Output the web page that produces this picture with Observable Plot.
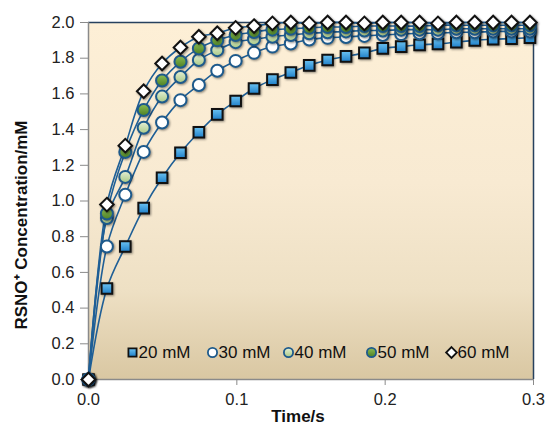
<!DOCTYPE html>
<html>
<head>
<meta charset="utf-8">
<script src="https://cdn.jsdelivr.net/npm/d3@7"></script>
<script src="https://cdn.jsdelivr.net/npm/@observablehq/plot@0.6"></script>
<style>
  html, body { margin: 0; padding: 0; background: #fff; }
  #chart { width: 546px; height: 426px; overflow: hidden; }
  .shd { filter: drop-shadow(1.2px 1.8px 1.2px rgba(0,0,0,0.45)); }
</style>
</head>
<body>
<div id="chart"></div>
<script>
const time = [0, 0.0124, 0.0248, 0.0372, 0.0496, 0.062, 0.0744, 0.0868, 0.0992, 0.1116, 0.124, 0.1364, 0.1488,
  0.1612, 0.1736, 0.186, 0.1984, 0.2108, 0.2232, 0.2356, 0.248, 0.2604, 0.2728, 0.2852, 0.2976];
const c20 = [0, 0.51, 0.745, 0.96, 1.13, 1.27, 1.385, 1.485, 1.56, 1.63, 1.68, 1.72, 1.76, 1.79, 1.81, 1.83,
  1.855, 1.865, 1.875, 1.88, 1.89, 1.90, 1.906, 1.91, 1.915];
const c30 = [0, 0.745, 1.035, 1.275, 1.44, 1.565, 1.65, 1.73, 1.785, 1.83, 1.865, 1.882, 1.905, 1.914, 1.919,
  1.925, 1.93, 1.935, 1.94, 1.94, 1.945, 1.945, 1.95, 1.95, 1.95];
const c40 = [0, 0.905, 1.135, 1.41, 1.585, 1.695, 1.79, 1.845, 1.89, 1.906, 1.92, 1.93, 1.94, 1.945, 1.95,
  1.955, 1.955, 1.96, 1.96, 1.96, 1.965, 1.965, 1.965, 1.965, 1.965];
const c50 = [0, 0.93, 1.275, 1.51, 1.675, 1.78, 1.855, 1.90, 1.93, 1.947, 1.96, 1.965, 1.97, 1.975, 1.975,
  1.98, 1.98, 1.98, 1.98, 1.985, 1.985, 1.985, 1.985, 1.985, 1.985];
const c60 = [0, 0.98, 1.31, 1.615, 1.77, 1.86, 1.92, 1.94, 1.97, 1.98, 1.995, 2.0, 1.995, 2.0, 2.0,
  1.995, 2.0, 2.0, 2.0, 1.995, 2.0, 2.0, 2.0, 2.0, 2.0];
const seriesNames = ["20 mM", "30 mM", "40 mM", "50 mM", "60 mM"];
const seriesValues = [c20, c30, c40, c50, c60];
const yTicks = [0, 0.2, 0.4, 0.6, 0.8, 1.0, 1.2, 1.4, 1.6, 1.8, 2.0];
const xTicks = [0, 0.1, 0.2, 0.3];
const xLabel = "Time/s";
const yLabel = "RSNO\u207A Concentration/mM";

const diamond = {
  draw(ctx, size) {
    const r = Math.sqrt(size / 2);
    ctx.moveTo(0, -r); ctx.lineTo(r, 0); ctx.lineTo(0, r); ctx.lineTo(-r, 0); ctx.closePath();
  }
};
const styles = [
  {symbol: "square", fill: "url(#gSq)", stroke: "#111", sw: 2, r: 6.0, lr: 4.6},
  {symbol: "circle", fill: "#ffffff", stroke: "#1d5a8c", sw: 2, r: 6.0, lr: 4.6},
  {symbol: "circle", fill: "url(#gLg)", stroke: "#1d5a8c", sw: 2, r: 6.0, lr: 4.6},
  {symbol: "circle", fill: "url(#gDg)", stroke: "#1d5a8c", sw: 2, r: 6.0, lr: 4.6},
  {symbol: diamond, fill: "#ffffff", stroke: "#111", sw: 2, r: 5.4, lr: 4.3}
];
const legendDx = [44, 124, 200, 283, 363];

const marks = [
  Plot.frame({fill: "url(#gBg)", stroke: "none"}),
  Plot.ruleY([2], {stroke: "#27415e", strokeWidth: 1.5}),
  Plot.ruleX([0.3], {stroke: "#27415e", strokeWidth: 1.5}),
  Plot.ruleX([0], {stroke: "#8a8a8a", strokeWidth: 1.5}),
  Plot.ruleY([0], {stroke: "#8a8a8a", strokeWidth: 1.5}),
  Plot.axisY({ticks: yTicks, tickFormat: d3.format(".1f"), tickSize: 8, tickPadding: 6, stroke: "#8a8a8a",
    color: "#222", fontSize: 16.5, label: null}),
  Plot.axisX({ticks: xTicks, tickFormat: d3.format(".1f"), tickSize: 6, tickPadding: 8, stroke: "#8a8a8a",
    color: "#222", fontSize: 16.5, label: null}),
  Plot.text([yLabel], {frameAnchor: "left", dx: -67, dy: 24, rotate: -90, fontSize: 17, fontWeight: "bold",
    fill: "#111", textAnchor: "middle", lineAnchor: "middle"}),
  Plot.text([xLabel], {frameAnchor: "bottom", dx: -13, dy: 37, fontSize: 17, fontWeight: "bold",
    fill: "#111", textAnchor: "middle", lineAnchor: "middle"})
];

seriesValues.forEach((vals, s) => {
  const data = time.map((t, i) => ({t, v: vals[i]}));
  marks.push(Plot.line(data, {x: "t", y: "v", curve: "catmull-rom", stroke: "#1f5f96", strokeWidth: 1.6}));
});
seriesValues.forEach((vals, s) => {
  const st = styles[s];
  const data = time.map((t, i) => ({t, v: vals[i]}));
  marks.push(Plot.dot(data, {x: "t", y: "v", symbol: st.symbol, r: st.r, fill: st.fill, stroke: st.stroke,
    strokeWidth: st.sw, className: "shd"}));
});
seriesNames.forEach((name, s) => {
  const st = styles[s];
  marks.push(Plot.dot([name], {frameAnchor: "bottom-left", dx: legendDx[s], dy: -27, symbol: st.symbol,
    r: st.lr, fill: st.fill, stroke: st.stroke, strokeWidth: 1.8}));
  marks.push(Plot.text([name], {frameAnchor: "bottom-left", dx: legendDx[s] + 6, dy: -27, fontSize: 17,
    fill: "#111", textAnchor: "start", lineAnchor: "middle"}));
});

const chart = Plot.plot({
  width: 546,
  height: 426,
  marginLeft: 88,
  marginRight: 13,
  marginTop: 22,
  marginBottom: 47,
  style: {fontFamily: "'Liberation Sans', Arial, Helvetica, sans-serif", background: "transparent"},
  x: {domain: [0, 0.3]},
  y: {domain: [0, 2]},
  marks
});

d3.select(chart).insert("defs", ":first-child").html(`
  <linearGradient id="gBg" x1="0" y1="0" x2="0" y2="1">
    <stop offset="0%" stop-color="#fdefd6"/>
    <stop offset="45%" stop-color="#f8ead2"/>
    <stop offset="75%" stop-color="#eee0c4"/>
    <stop offset="100%" stop-color="#d9c7a2"/>
  </linearGradient>
  <linearGradient id="gSq" x1="0" y1="0" x2="0" y2="1">
    <stop offset="0%" stop-color="#6cc3f2"/>
    <stop offset="100%" stop-color="#1f7fc8"/>
  </linearGradient>
  <linearGradient id="gLg" x1="0" y1="0" x2="0" y2="1">
    <stop offset="0%" stop-color="#e6f0d6"/>
    <stop offset="100%" stop-color="#a9c985"/>
  </linearGradient>
  <linearGradient id="gDg" x1="0" y1="0" x2="0" y2="1">
    <stop offset="0%" stop-color="#8cbd55"/>
    <stop offset="100%" stop-color="#4c7f24"/>
  </linearGradient>
`);

document.getElementById("chart").appendChild(chart);
</script>
</body>
</html>
